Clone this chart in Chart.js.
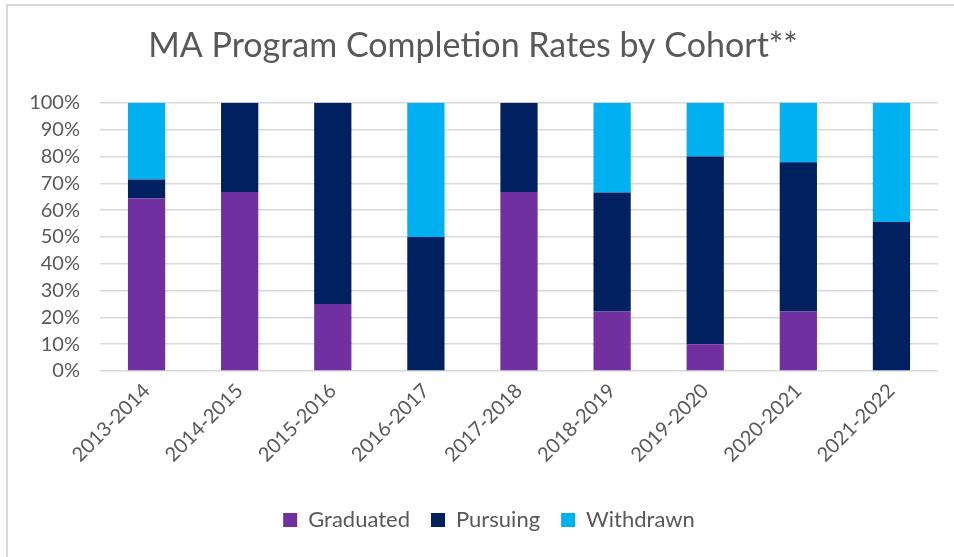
<!DOCTYPE html>
<html>
<head>
<meta charset="utf-8">
<script src="https://cdn.jsdelivr.net/npm/chart.js@4/dist/chart.umd.min.js"></script>
<style>
  html, body { margin: 0; padding: 0; background: #fff; }
  #wrap { position: relative; width: 954px; height: 557px; }
  #frame { position: absolute; left: 6px; top: 4px; right: 0; bottom: 0;
           border-top: 2px solid #d9d9d9; border-left: 2px solid #d9d9d9; pointer-events: none; }
</style>
</head>
<body>
<div id="wrap">
  <canvas id="chart" width="954" height="557"></canvas>
  <div id="frame"></div>
</div>
<script>
const cohorts = ['2013-2014', '2014-2015', '2015-2016', '2016-2017', '2017-2018',
                 '2018-2019', '2019-2020', '2020-2021', '2021-2022'];
const graduated = [64.3, 66.7, 25, 0, 66.7, 22.2, 10, 22.2, 0];
const pursuing  = [7.1, 33.3, 75, 50, 33.3, 44.4, 70, 55.6, 55.6];
const withdrawn = [28.6, 0, 0, 50, 0, 33.3, 20, 22.2, 44.4];

const textColor = '#595959';
const fontFamily = 'Lato, "Open Sans", sans-serif';

// Excel centres the legend a bit right of the canvas centre
const legendShift = {
    id: 'legendShift',
    afterLayout(chart) {
        if (chart.legend) {
            chart.legend.left += 16;
            chart.legend.right += 16;
        }
    }
};

new Chart(document.getElementById('chart'), {
    type: 'bar',
    data: {
        labels: cohorts,
        datasets: [
            { label: 'Graduated', data: graduated, backgroundColor: '#7030A0' },
            { label: 'Pursuing', data: pursuing, backgroundColor: '#002060' },
            { label: 'Withdrawn', data: withdrawn, backgroundColor: '#00B0F0' }
        ]
    },
    options: {
        responsive: false,
        animation: false,
        datasets: {
            bar: { categoryPercentage: 1, barPercentage: 0.4 }
        },
        layout: { padding: { left: 8, right: 16, top: 20, bottom: 16 } },
        plugins: {
            title: {
                display: true,
                text: 'MA Program Completion Rates by Cohort**',
                color: textColor,
                font: { family: fontFamily, size: 34, weight: 'normal' },
                padding: { top: 6, bottom: 36 }
            },
            legend: {
                position: 'bottom',
                labels: {
                    color: textColor,
                    font: { family: fontFamily, size: 22 },
                    boxWidth: 14,
                    boxHeight: 14,
                    padding: 21
                }
            },
            tooltip: { enabled: false }
        },
        scales: {
            x: {
                stacked: true,
                grid: { display: false },
                border: { display: false },
                ticks: {
                    color: textColor,
                    font: { family: fontFamily, size: 20 },
                    maxRotation: 45,
                    minRotation: 45,
                    padding: 0
                },
                afterFit: axis => { axis.height = 117; }
            },
            y: {
                stacked: true,
                min: 0,
                max: 100,
                grid: { color: '#d9d9d9', lineWidth: 1.5, drawTicks: false },
                border: { display: false },
                ticks: {
                    stepSize: 10,
                    autoSkip: false,
                    color: textColor,
                    font: { family: fontFamily, size: 20 },
                    padding: 20,
                    callback: v => v + '%'
                },
                afterFit: axis => { axis.width = 92; }
            }
        }
    },
    plugins: [legendShift]
});
</script>
</body>
</html>
